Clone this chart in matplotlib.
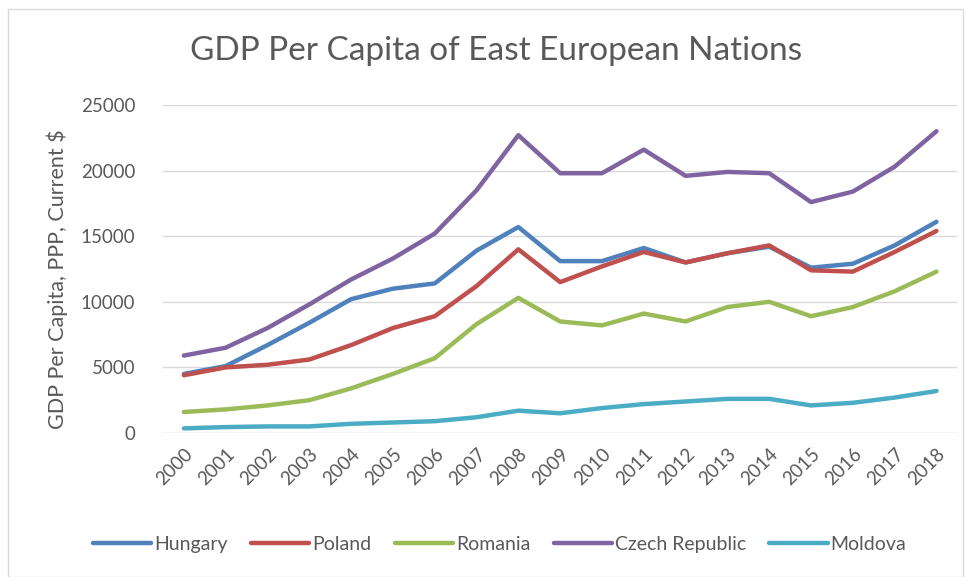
import matplotlib.pyplot as plt
import matplotlib.patches as mpatches

years = [str(y) for y in range(2000, 2019)]
hungary = [4500, 5100, 6700, 8400, 10200, 11000, 11400, 13900, 15700, 13100,
           13100, 14100, 13000, 13700, 14200, 12600, 12900, 14300, 16100]
poland = [4400, 5000, 5200, 5600, 6700, 8000, 8900, 11200, 14000, 11500,
          12700, 13800, 13000, 13700, 14300, 12400, 12300, 13800, 15400]
romania = [1600, 1800, 2100, 2500, 3400, 4500, 5700, 8300, 10300, 8500,
           8200, 9100, 8500, 9600, 10000, 8900, 9600, 10800, 12300]
czech = [5900, 6500, 8000, 9800, 11700, 13300, 15200, 18500, 22700, 19800,
         19800, 21600, 19600, 19900, 19800, 17600, 18400, 20300, 23000]
moldova = [350, 450, 500, 500, 700, 800, 900, 1200, 1700, 1500,
           1900, 2200, 2400, 2600, 2600, 2100, 2300, 2700, 3200]

plt.rcParams['font.family'] = ['Lato', 'DejaVu Sans']

fig = plt.figure(figsize=(9.7, 5.77), dpi=100)
ax = fig.add_axes([0.168, 0.2496, 0.819, 0.5684])

series = [("Hungary", hungary, "#4F81BD"), ("Poland", poland, "#C0504D"),
          ("Romania", romania, "#9BBB59"), ("Czech Republic", czech, "#8064A2"),
          ("Moldova", moldova, "#4BACC6")]
x = range(len(years))
for name, vals, col in series:
    ax.plot(x, vals, color=col, lw=3.2, label=name, solid_capstyle='round')

ax.set_xlim(-0.5, len(years) - 0.5)
ax.set_ylim(0, 25000)
ax.set_yticks(range(0, 25001, 5000))
ax.set_xticks(list(x))
ax.set_xticklabels(years, rotation=45, ha='right', rotation_mode='anchor')
ax.tick_params(axis='both', length=0, labelsize=13.5, colors='#595959')
ax.tick_params(axis='y', pad=20)
ax.tick_params(axis='x', pad=9)
ax.grid(axis='y', color='#D9D9D9', lw=1)
ax.set_axisbelow(True)
for s in ax.spines.values():
    s.set_visible(False)

ax.set_ylabel("GDP Per Capita, PPP, Current $", fontsize=15.5, color='#595959')
ax.yaxis.set_label_coords(-0.12, 0.47)
fig.text(0.511, 0.912, "GDP Per Capita of East European Nations", ha='center', va='center',
         fontsize=24, color='#595959')

leg = fig.legend(loc='center', bbox_to_anchor=(0.515, 0.057), ncol=5, frameon=False,
                 fontsize=14, handlelength=3.0, columnspacing=1.2, handletextpad=0.15)
for t in leg.get_texts():
    t.set_color('#595959')

fig.patches.append(mpatches.Rectangle((0.008, 0.0), 0.985, 0.985, transform=fig.transFigure,
                                      fill=False, edgecolor='#D9D9D9', lw=1))

fig.savefig("out.png", dpi=100)
